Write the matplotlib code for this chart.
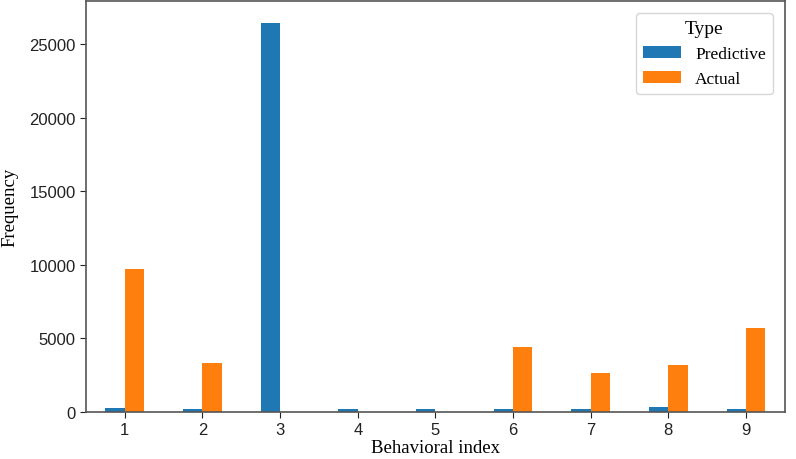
import numpy as np
import matplotlib
matplotlib.use('Agg')
import matplotlib.pyplot as plt

categories = ['1', '2', '3', '4', '5', '6', '7', '8', '9']
predictive = [300, 200, 26400, 220, 220, 220, 230, 330, 230]
actual = [9750, 3350, 0, 0, 0, 4400, 2650, 3200, 5700]

serif = ['Liberation Serif', 'DejaVu Serif']
sans = ['Liberation Sans Narrow', 'Liberation Sans', 'DejaVu Sans']

fig = plt.figure(figsize=(7.96, 4.60), dpi=100)
ax = fig.add_axes([0.108, 0.102, 0.878, 0.893])

x = np.arange(len(categories))
w = 0.25
ax.bar(x - w / 2, predictive, w, color='#1f77b4', label='Predictive')
ax.bar(x + w / 2, actual, w, color='#ff7f0e', label='Actual')

ax.set_xlim(-0.5, len(categories) - 0.5)
ax.set_ylim(0, 27900)
ax.set_xticks(x)
ax.set_xticklabels(categories)
ax.set_yticks([0, 5000, 10000, 15000, 20000, 25000])
for lab in ax.get_xticklabels() + ax.get_yticklabels():
    lab.set_family(sans)
    lab.set_fontsize(12)
ax.tick_params(colors='#222222', length=4)

for s in ax.spines.values():
    s.set_color('#555555')
    s.set_linewidth(1.2)

ax.set_xlabel('Behavioral index', family=serif, fontsize=13.5, labelpad=1)
ax.set_ylabel('Frequency', family=serif, fontsize=13.5, labelpad=8)

leg = ax.legend(title='Type', loc='upper right', prop={'family': serif, 'size': 12.5},
                title_fontproperties={'family': serif, 'size': 14},
                borderaxespad=0.7, handlelength=2.2)

fig.savefig('out.png', dpi=100)
